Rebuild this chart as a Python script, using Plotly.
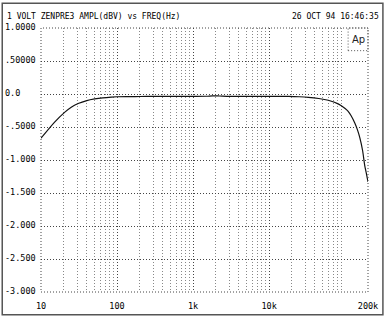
import plotly.graph_objects as go
import math

# ---- data ----
freq_hz = [10, 15, 20.6, 25, 30.8, 40, 50.8, 65, 84, 100, 150, 200, 300, 500, 700,
           1000, 1500, 1800, 2200, 3000, 5000, 7000, 10000, 15000, 18000, 25000,
           32800, 45000, 60000, 81000, 100000, 109000, 120000, 134000, 145000,
           156000, 170000, 181000, 190000, 200000]
ampl_dbv = [-0.67, -0.43, -0.275, -0.2, -0.145, -0.1, -0.075, -0.058, -0.047, -0.042,
            -0.04, -0.038, -0.037, -0.036, -0.035, -0.035, -0.034, -0.028, -0.03,
            -0.035, -0.035, -0.035, -0.035, -0.035, -0.037, -0.042, -0.05, -0.068,
            -0.095, -0.15, -0.22, -0.26, -0.33, -0.44, -0.54, -0.66, -0.86, -1.08,
            -1.2, -1.33]

x_tick_vals = [10, 100, 1000, 10000, 200000]
x_tick_text = ["10", "100", "1k", "10k", "200k"]
y_tick_vals = [1.0, 0.5, 0.0, -0.5, -1.0, -1.5, -2.0, -2.5, -3.0]
y_tick_text = ["1.0000", ".50000", "0.0", "-.5000", "-1.000", "-1.500", "-2.000", "-2.500", "-3.000"]
title_left = "1 VOLT ZENPRE3 AMPL(dBV) vs FREQ(Hz)"
title_right = "26 OCT 94 16:46:35"
logo_text = "Ap"

minor_vals = [m * 10 ** d for d in range(1, 6) for m in range(2, 10) if m * 10 ** d < 200000]

FONT = "DejaVu Sans Mono"
W, H = 390, 323
L, R, T, B = 41, 20, 28, 27
pw, ph = W - L - R, H - T - B

def px(xpix):
    return (xpix - L) / pw

def py(ypix):
    return (H - B - ypix) / ph

fig = go.Figure()
fig.add_trace(go.Scatter(x=freq_hz, y=ampl_dbv, mode="lines",
                         line=dict(color="#111", width=1.2, shape="spline", smoothing=0.6),
                         hoverinfo="skip", showlegend=False))

grid_dash = "1px,2px"
fig.update_xaxes(type="log", range=[1, math.log10(200000)],
                 tickvals=x_tick_vals, ticktext=x_tick_text,
                 showgrid=True, gridcolor="#444", griddash=grid_dash, gridwidth=1,
                 minor=dict(tickvals=minor_vals, showgrid=True, gridcolor="#888",
                            griddash=grid_dash, gridwidth=1, ticklen=0),
                 ticks="", showline=False, zeroline=False,
                 tickfont=dict(family=FONT, size=8.5, color="#000"),
                 ticklabelstandoff=7)
fig.update_yaxes(range=[-3, 1], tickvals=y_tick_vals, showticklabels=False,
                 showgrid=True, gridcolor="#444", griddash=grid_dash, gridwidth=1,
                 ticks="", showline=False, zeroline=False)

# y tick labels, left aligned like the original plotter
for v, t in zip(y_tick_vals, y_tick_text):
    fig.add_annotation(x=px(3), xref="paper", y=v, yref="y", text=t, showarrow=False,
                       xanchor="left", yanchor="middle", yshift=1,
                       font=dict(family=FONT, size=8.5, color="#000"))

fig.add_annotation(x=px(5), xref="paper", y=py(16), yref="paper", text=title_left,
                   showarrow=False, xanchor="left", yanchor="middle",
                   font=dict(family=FONT, size=8, color="#000"))
fig.add_annotation(x=px(383), xref="paper", y=py(16), yref="paper", text=title_right,
                   showarrow=False, xanchor="right", yanchor="middle",
                   font=dict(family=FONT, size=8, color="#000"))

# plot frame (dotted) and outer border
fig.add_shape(type="rect", xref="paper", yref="paper", x0=0, x1=1, y0=0, y1=1,
              line=dict(color="#444", width=1, dash=grid_dash))
fig.add_shape(type="rect", xref="paper", yref="paper", x0=px(2), x1=px(385),
              y0=py(319), y1=py(3), line=dict(color="#555", width=1.5))

# Ap logo box
fig.add_shape(type="rect", xref="paper", yref="paper", x0=px(350), x1=1, y0=py(51), y1=1,
              line=dict(color="#555", width=1, dash=grid_dash))
fig.add_annotation(x=px(360), xref="paper", y=py(40), yref="paper", text=logo_text,
                   showarrow=False, xanchor="center", yanchor="middle",
                   font=dict(family="DejaVu Sans", size=10, color="#222"))

fig.update_layout(width=W, height=H, margin=dict(l=L, r=R, t=T, b=B),
                  paper_bgcolor="white", plot_bgcolor="white", showlegend=False)

fig.write_html("out.html", config={"displayModeBar": False})
